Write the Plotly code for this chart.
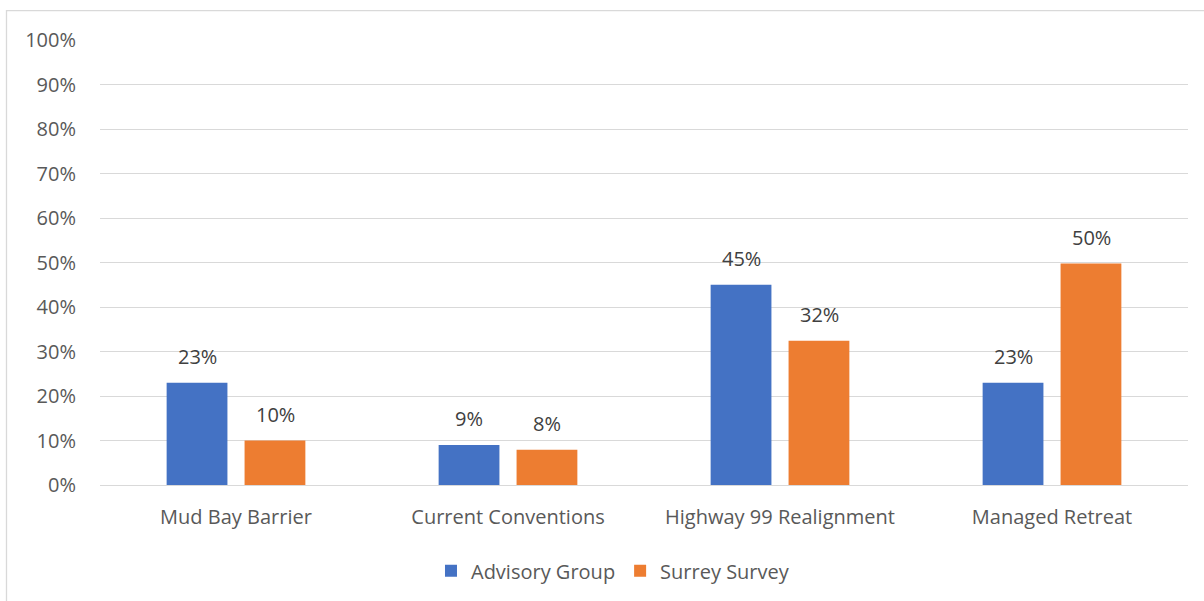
import plotly.graph_objects as go

categories = ["Mud Bay Barrier", "Current Conventions", "Highway 99 Realignment", "Managed Retreat"]
advisory_group = [0.23, 0.09, 0.45, 0.23]
surrey_survey = [0.10, 0.079, 0.324, 0.498]
series_names = ["Advisory Group", "Surrey Survey"]
colors = ["#4472C4", "#ED7D31"]
tick_vals = [i / 10 for i in range(11)]
tick_text = [f"{i*10}%" for i in range(11)]

FONT = "Open Sans, Calibri, sans-serif"
FS = 20

fig = go.Figure()
for name, vals, col in zip(series_names, [advisory_group, surrey_survey], colors):
    fig.add_trace(go.Bar(
        x=categories, y=vals, name=name,
        marker=dict(color=col, line=dict(width=0)),
    ))

annotations = []
for k, vals in enumerate([advisory_group, surrey_survey]):
    for c, v in zip(categories, vals):
        annotations.append(dict(
            x=c, y=v, xref="x", yref="y",
            text=f"{round(v*100):.0f}%",
            showarrow=False, xshift=(-39 if k == 0 else 39), yshift=26,
            font=dict(family=FONT, size=FS, color="#404040"),
        ))

fig.update_layout(
    width=1204, height=601,
    margin=dict(l=100, r=16, t=40, b=115),
    paper_bgcolor="white", plot_bgcolor="white",
    barmode="group", bargap=0.427, bargroupgap=0.22,
    font=dict(family=FONT, size=FS, color="#595959"),
    showlegend=True,
    legend=dict(orientation="h", x=0.4715, xanchor="center", y=-0.19, yanchor="middle",
                font=dict(family=FONT, size=FS, color="#595959"),
                itemwidth=30, traceorder="normal"),
    annotations=annotations,
    shapes=[dict(type="rect", xref="paper", yref="paper",
                 x0=(6.5 - 100) / 1088, x1=(1220 - 100) / 1088,
                 y0=(486 - 620) / 446, y1=(486 - 10.5) / 446,
                 line=dict(color="#d9d9d9", width=1.3), fillcolor="rgba(0,0,0,0)", layer="below")],
)
fig.update_xaxes(showgrid=False, showline=False, ticks="", ticklabelstandoff=18,
                 tickfont=dict(size=FS, color="#595959"))
fig.update_yaxes(range=[0, 1.0001], tickvals=tick_vals, ticktext=tick_text,
                 showgrid=True, gridcolor="#d9d9d9", gridwidth=1.3,
                 zeroline=True, zerolinecolor="#d9d9d9", zerolinewidth=1.3,
                 showline=False, ticks="", ticklabelstandoff=23,
                 tickfont=dict(size=FS, color="#595959"))

fig.write_html("out.html", config={"displayModeBar": False},
               post_script="document.body.style.margin='0';document.body.style.overflow='hidden';")
